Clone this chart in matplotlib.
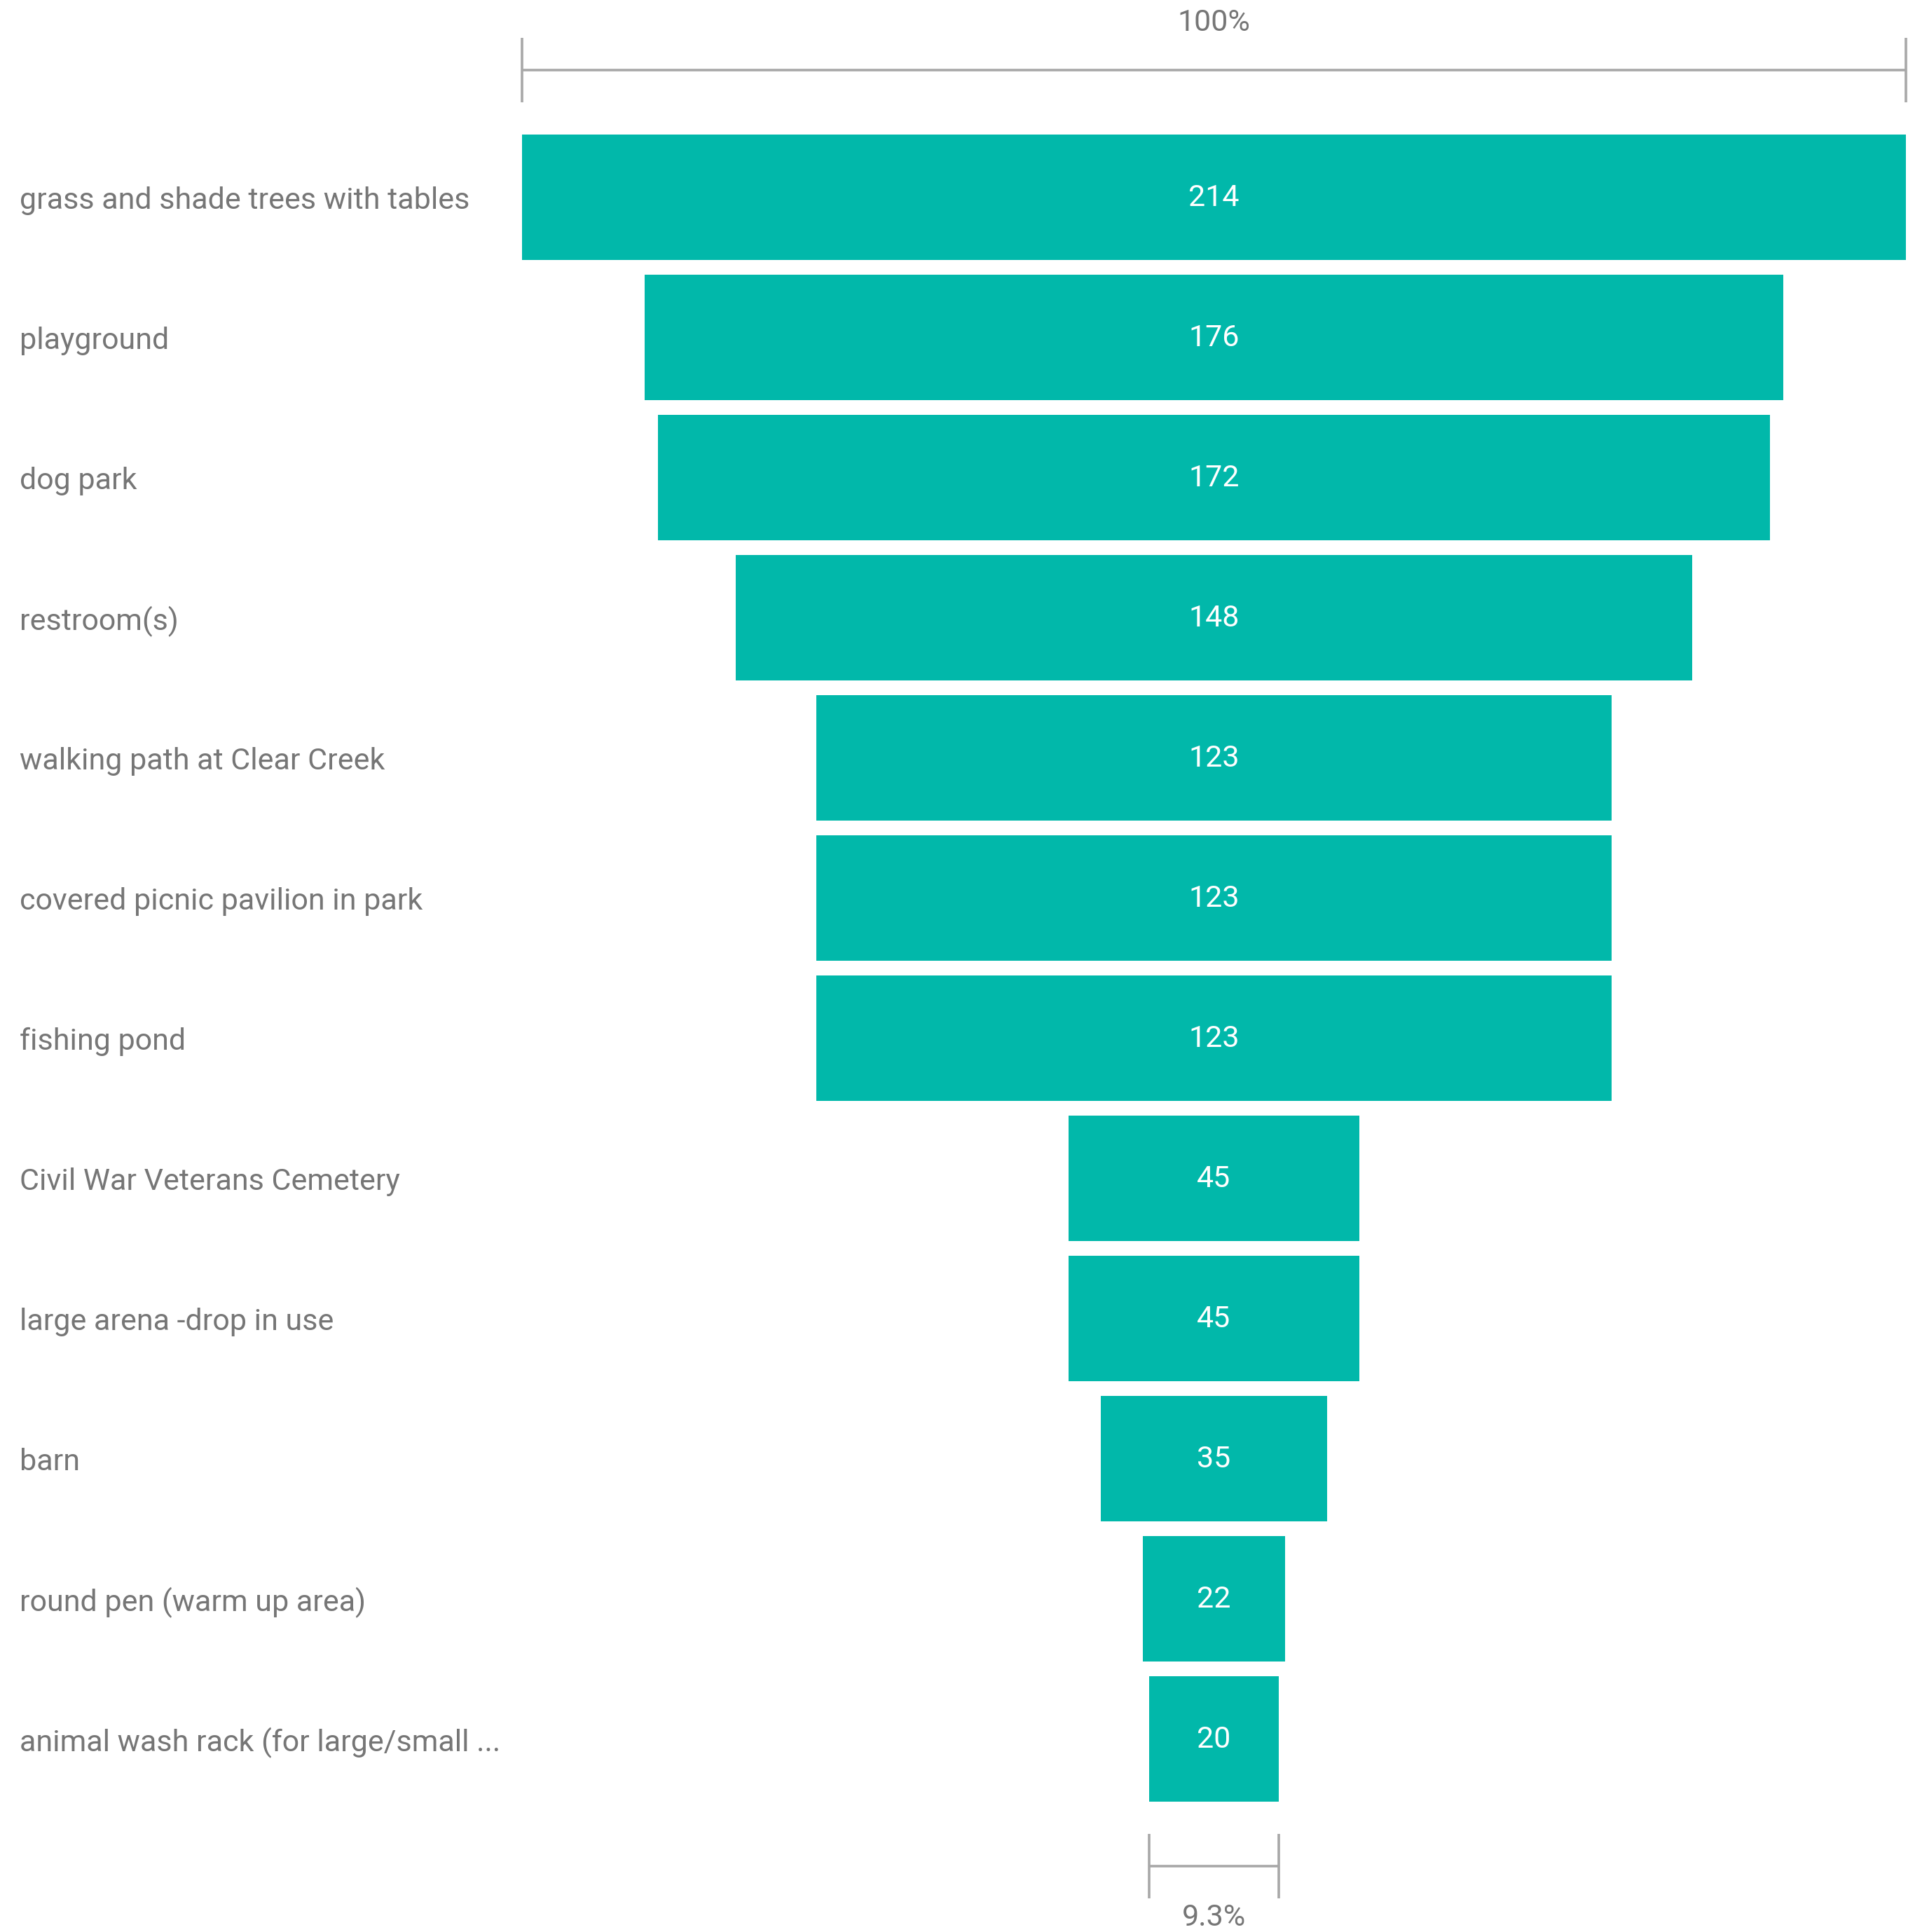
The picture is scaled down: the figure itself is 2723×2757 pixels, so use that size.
import numpy as np
import matplotlib
matplotlib.use("Agg")
import matplotlib.pyplot as plt
import matplotlib.transforms as mtransforms

# Funnel data: amenities and how many respondents picked them
categories = [
    "grass and shade trees with tables",
    "playground",
    "dog park",
    "restroom(s)",
    "walking path at Clear Creek",
    "covered picnic pavilion in park",
    "fishing pond",
    "Civil War Veterans Cemetery",
    "large arena -drop in use",
    "barn",
    "round pen (warm up area)",
    "animal wash rack (for large/small ...",
]
counts = [214, 176, 172, 148, 123, 123, 123, 45, 45, 35, 22, 20]

TEAL = "#01B8AA"
LABEL_GRAY = "#767676"
LINE_GRAY = "#A8A8A8"

plt.rcParams["font.family"] = ["Roboto", "DejaVu Sans"]

W, H, DPI = 2723, 2757, 100
fig = plt.figure(figsize=(W / DPI, H / DPI), dpi=DPI)
fig.patch.set_facecolor("white")

# axes spans the bar area horizontally, whole figure vertically
left_px, right_px = 745, 2720
ax = fig.add_axes([left_px / W, 0, (right_px - left_px) / W, 1])
ax.set_axis_off()

top_row_px, row_pitch = 281.5, 200.0
ax.set_ylim((H - top_row_px) / row_pitch, -top_row_px / row_pitch)
vmax = max(counts)
ax.set_xlim(-vmax / 2, vmax / 2)

rows = np.arange(len(counts))
vals = np.array(counts, dtype=float)
ax.barh(rows, vals, left=-vals / 2, height=0.895, color=TEAL, linewidth=0)

for r, v in zip(rows, counts):
    ax.text(0, r + 0.005, str(v), ha="center", va="center", color="white",
            fontsize=31)

# category labels at the left edge of the figure
trans = mtransforms.blended_transform_factory(fig.transFigure, ax.transData)
for r, name in zip(rows, categories):
    ax.text(28 / W, r + 0.025, name, transform=trans, ha="left", va="center",
            color=LABEL_GRAY, fontsize=31)

# width brackets: first stage (100%) and last stage relative to it
def bracket(x0, x1, y_line, half_tick):
    kw = dict(color=LINE_GRAY, lw=2.6, solid_capstyle="butt", clip_on=False)
    ax.plot([x0, x1], [y_line, y_line], **kw)
    ax.plot([x0, x0], [y_line - half_tick, y_line + half_tick], **kw)
    ax.plot([x1, x1], [y_line - half_tick, y_line + half_tick], **kw)

first, last = counts[0], counts[-1]
top_y = -0.9075
bracket(-first / 2, first / 2, top_y, 0.23)
ax.text(0, top_y - 0.335, "100%", ha="center", va="center",
        color=LABEL_GRAY, fontsize=31)

bot_y = len(counts) - 1 + 0.9075
bracket(-last / 2, last / 2, bot_y, 0.23)
ax.text(0, bot_y + 0.365, f"{last / first * 100:.1f}%", ha="center",
        va="center", color=LABEL_GRAY, fontsize=31, clip_on=False)

fig.savefig("out.png", dpi=DPI, facecolor="white")
